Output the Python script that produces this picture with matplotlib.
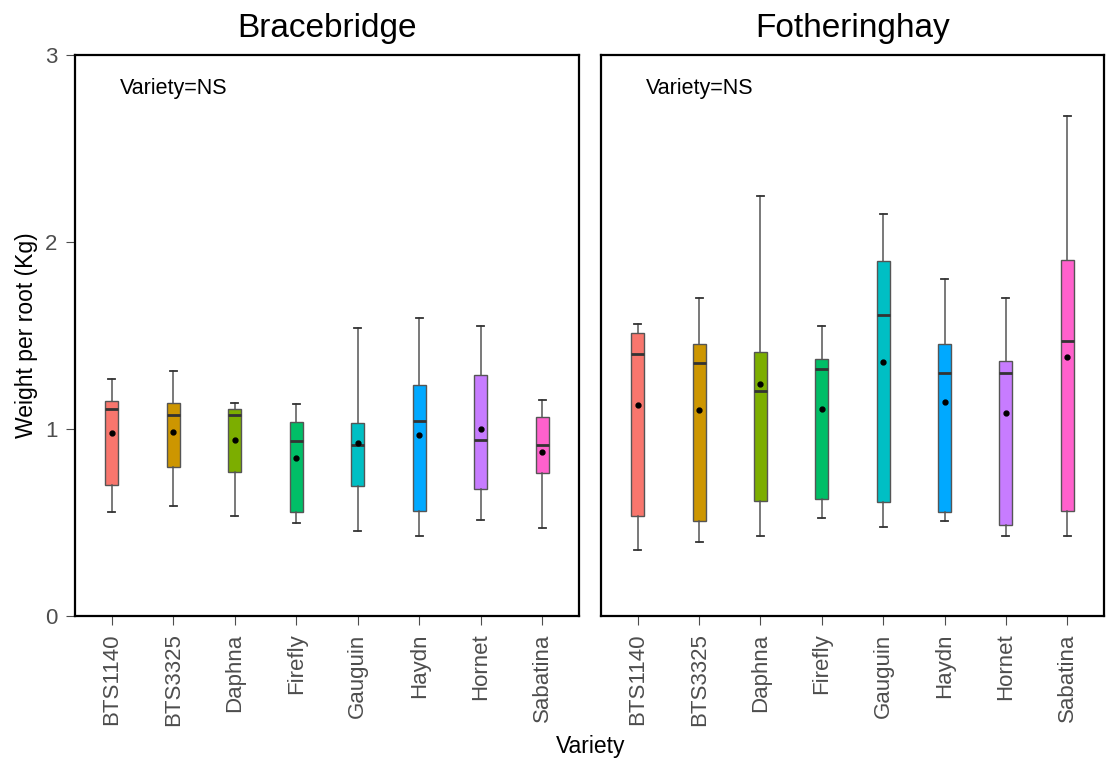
import numpy as np
import matplotlib.pyplot as plt

plt.rcParams['font.family'] = ['Liberation Sans', 'DejaVu Sans']

# ── Données ─────────────────────────────────────────────────
varieties = ["BTS1140", "BTS3325", "Daphna", "Firefly", "Gauguin", "Haydn", "Hornet", "Sabatina"]
colors = ["#F8766D", "#CD9600", "#7CAE00", "#00BE67", "#00BFC4", "#00A9FF", "#C77CFF", "#FF61CC"]
sites = ["Bracebridge", "Fotheringhay"]

brace_min  = [0.557, 0.589, 0.537, 0.495, 0.457, 0.430, 0.514, 0.468]
brace_q1   = [0.698, 0.798, 0.768, 0.555, 0.696, 0.559, 0.680, 0.764]
brace_med  = [1.109, 1.077, 1.077, 0.937, 0.914, 1.045, 0.939, 0.914]
brace_q3   = [1.152, 1.137, 1.107, 1.036, 1.032, 1.236, 1.287, 1.062]
brace_max  = [1.270, 1.312, 1.141, 1.132, 1.541, 1.596, 1.553, 1.157]
brace_mean = [0.977, 0.982, 0.941, 0.846, 0.925, 0.966, 1.002, 0.878]

foth_min  = [0.355, 0.398, 0.427, 0.523, 0.475, 0.509, 0.427, 0.428]
foth_q1   = [0.537, 0.507, 0.616, 0.627, 0.607, 0.554, 0.487, 0.564]
foth_med  = [1.400, 1.354, 1.205, 1.321, 1.607, 1.302, 1.300, 1.471]
foth_q3   = [1.516, 1.452, 1.411, 1.375, 1.896, 1.457, 1.361, 1.904]
foth_max  = [1.559, 1.700, 2.246, 1.553, 2.148, 1.804, 1.702, 2.675]
foth_mean = [1.129, 1.104, 1.243, 1.107, 1.359, 1.145, 1.087, 1.386]

panels = [
    (brace_min, brace_q1, brace_med, brace_q3, brace_max, brace_mean),
    (foth_min, foth_q1, foth_med, foth_q3, foth_max, foth_mean),
]

# ── Figure ──────────────────────────────────────────────────
fig = plt.figure(figsize=(11.06, 7.62), dpi=100)
ax1 = fig.add_axes([75/1106, 146/762, 504/1106, 561/762])
ax2 = fig.add_axes([601/1106, 146/762, 503/1106, 561/762])
pos = np.arange(len(varieties))

for ax, site, (lo, q1, med, q3, hi, mean) in zip([ax1, ax2], sites, panels):
    stats = [dict(whislo=lo[i], q1=q1[i], med=med[i], q3=q3[i], whishi=hi[i],
                  mean=mean[i], fliers=[]) for i in range(len(varieties))]
    bp = ax.bxp(stats, positions=pos, widths=0.21, patch_artist=True,
                showmeans=True, showfliers=False,
                boxprops=dict(edgecolor="#555555", linewidth=1.0),
                whiskerprops=dict(color="#555555", linewidth=1.1),
                capprops=dict(color="#333333", linewidth=1.3),
                medianprops=dict(color="#333333", linewidth=2.0),
                meanprops=dict(marker="o", markerfacecolor="black",
                               markeredgecolor="black", markersize=3.5))
    for patch, c in zip(bp["boxes"], colors):
        patch.set_facecolor(c)
    for cap in bp["caps"]:
        x = cap.get_xdata()
        mid = (x[0] + x[1]) / 2
        cap.set_xdata([mid - 0.055, mid + 0.055])

    ax.set_xlim(-0.6, 7.6)
    ax.set_ylim(0, 3)
    ax.set_xticks(pos)
    ax.set_xticklabels(varieties, rotation=90, fontsize=16, color="#4D4D4D")
    ax.set_title(site, fontsize=24, pad=13)
    ax.text(0.13, 2.82, "Variety=NS", fontsize=15.5, va="center", ha="left")
    for s in ax.spines.values():
        s.set_linewidth(1.6)
        s.set_color("black")
    ax.tick_params(axis="x", length=6.5, color="#4D4D4D", width=0.8, pad=6)

ax1.set_yticks([0, 1, 2, 3])
ax1.tick_params(axis="y", length=6.5, color="#4D4D4D", width=0.8, labelsize=16,
                labelcolor="#4D4D4D", pad=6)
ax2.set_yticks([])

ax1.set_ylabel("Weight per root (Kg)", fontsize=16.5, labelpad=5)
fig.text(591/1106, 1 - 746/762, "Variety", fontsize=16.5, ha="center", va="center")

plt.savefig("out.png", dpi=100)
